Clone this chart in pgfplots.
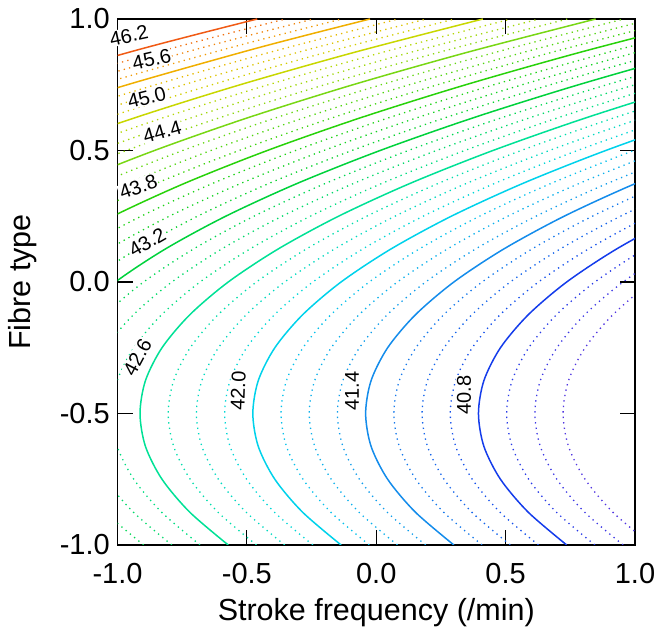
\documentclass[border=0pt]{standalone}
\usepackage{fontspec}
\setmainfont{Liberation Sans}
\usepackage{pgfplots}
\pgfplotsset{compat=1.18}
\definecolor{c402}{RGB}{100,50,220}
\definecolor{c408}{RGB}{20,60,235}
\definecolor{c414}{RGB}{20,140,235}
\definecolor{c420}{RGB}{0,210,235}
\definecolor{c426}{RGB}{0,225,150}
\definecolor{c432}{RGB}{0,210,60}
\definecolor{c438}{RGB}{40,210,10}
\definecolor{c444}{RGB}{120,215,20}
\definecolor{c450}{RGB}{200,215,0}
\definecolor{c456}{RGB}{240,175,0}
\definecolor{c462}{RGB}{240,90,20}
\tikzset{
  sl/.style={line width=1.5pt, smooth},
  dl/.style={line width=1.3pt, dash pattern=on 1.3pt off 4.2pt, smooth},
  cl/.style={font=\fontsize{20}{24}\selectfont, fill=white, inner sep=0.8pt, text=black}
}
\begin{document}
\begin{tikzpicture}[x=1pt,y=1pt]
\useasboundingbox (-117.5,-91) rectangle (540.5,545);
\begin{axis}[at={(0,0)}, anchor=south west, scale only axis,
  width=517.5pt, height=526pt,
  xmin=-1, xmax=1, ymin=-1, ymax=1,
  xtick={-1,-0.5,0,0.5,1}, xticklabels={-1.0,-0.5,0.0,0.5,1.0},
  ytick={-1,-0.5,0,0.5,1}, yticklabels={-1.0,-0.5,0.0,0.5,1.0},
  tick align=inside, major tick length=15pt,
  tick style={line width=1.2pt, black},
  axis line style={line width=1.3pt},
  ticklabel style={font=\fontsize{29}{34}\selectfont, inner sep=0pt},
  xticklabel style={anchor=north, yshift=-18pt},
  yticklabel style={anchor=east, xshift=-7.5pt},
  xlabel={Stroke frequency (/min)}, ylabel={Fibre type},
  every axis x label/.style={at={(axis description cs:0.5,-0.1426)}, anchor=base, inner sep=0pt, font=\fontsize{30.5}{36}\selectfont},
  every axis y label/.style={at={(axis description cs:-0.1672,0.5)}, rotate=90, anchor=base, inner sep=0pt, font=\fontsize{30.5}{36}\selectfont},
  after end axis/.code={
    \node[cl, rotate=12] at (axis cs:-0.956,0.937) {46.2};
    \node[cl, rotate=13] at (axis cs:-0.868,0.847) {45.6};
    \node[cl, rotate=14] at (axis cs:-0.887,0.702) {45.0};
    \node[cl, rotate=16] at (axis cs:-0.827,0.571) {44.4};
    \node[cl, rotate=20] at (axis cs:-0.920,0.362) {43.8};
    \node[cl, rotate=30] at (axis cs:-0.885,0.151) {43.2};
    \node[cl, rotate=62] at (axis cs:-0.923,-0.286) {42.6};
    \node[cl, rotate=88] at (axis cs:-0.534,-0.414) {42.0};
    \node[cl, rotate=90] at (axis cs:-0.094,-0.414) {41.4};
    \node[cl, rotate=90] at (axis cs:0.339,-0.430) {40.8};
  },
]
% 40.35
\addplot[dl, color=c408!25!c402] coordinates {(1.063,-1)(0.914,-0.875)(0.807,-0.75)(0.743,-0.625)(0.722,-0.5)(0.743,-0.375)(0.807,-0.25)(0.914,-0.125)(1.063,0)(1.255,0.125)};
% 40.50
\addplot[dl, color=c408!50!c402] coordinates {(0.954,-1)(0.805,-0.875)(0.698,-0.75)(0.634,-0.625)(0.613,-0.5)(0.634,-0.375)(0.698,-0.25)(0.805,-0.125)(0.954,0)(1.146,0.125)(1.380,0.25)};
% 40.65
\addplot[dl, color=c408!75!c402] coordinates {(0.845,-1)(0.696,-0.875)(0.589,-0.75)(0.525,-0.625)(0.504,-0.5)(0.525,-0.375)(0.589,-0.25)(0.696,-0.125)(0.845,0)(1.037,0.125)(1.271,0.25)};
% 40.80
\addplot[sl, color=c408] coordinates {(0.736,-1)(0.587,-0.875)(0.480,-0.75)(0.416,-0.625)(0.395,-0.5)(0.416,-0.375)(0.480,-0.25)(0.587,-0.125)(0.736,0)(0.928,0.125)(1.162,0.25)(1.439,0.375)};
% 40.95
\addplot[dl, color=c414!25!c408] coordinates {(0.627,-1)(0.478,-0.875)(0.371,-0.75)(0.307,-0.625)(0.286,-0.5)(0.307,-0.375)(0.371,-0.25)(0.478,-0.125)(0.627,0)(0.819,0.125)(1.053,0.25)(1.330,0.375)};
% 41.10
\addplot[dl, color=c414!50!c408] coordinates {(0.518,-1)(0.369,-0.875)(0.262,-0.75)(0.198,-0.625)(0.177,-0.5)(0.198,-0.375)(0.262,-0.25)(0.369,-0.125)(0.518,0)(0.710,0.125)(0.944,0.25)(1.221,0.375)(1.541,0.5)};
% 41.25
\addplot[dl, color=c414!75!c408] coordinates {(0.409,-1)(0.260,-0.875)(0.153,-0.75)(0.089,-0.625)(0.068,-0.5)(0.089,-0.375)(0.153,-0.25)(0.260,-0.125)(0.409,0)(0.601,0.125)(0.835,0.25)(1.112,0.375)(1.432,0.5)};
% 41.40
\addplot[sl, color=c414] coordinates {(0.300,-1)(0.151,-0.875)(0.044,-0.75)(-0.020,-0.625)(-0.041,-0.5)(-0.020,-0.375)(0.044,-0.25)(0.151,-0.125)(0.300,0)(0.492,0.125)(0.726,0.25)(1.003,0.375)(1.323,0.5)};
% 41.55
\addplot[dl, color=c420!25!c414] coordinates {(0.191,-1)(0.042,-0.875)(-0.065,-0.75)(-0.129,-0.625)(-0.150,-0.5)(-0.129,-0.375)(-0.065,-0.25)(0.042,-0.125)(0.191,0)(0.383,0.125)(0.617,0.25)(0.894,0.375)(1.214,0.5)(1.576,0.625)};
% 41.70
\addplot[dl, color=c420!50!c414] coordinates {(0.082,-1)(-0.067,-0.875)(-0.174,-0.75)(-0.238,-0.625)(-0.259,-0.5)(-0.238,-0.375)(-0.174,-0.25)(-0.067,-0.125)(0.082,0)(0.274,0.125)(0.508,0.25)(0.785,0.375)(1.105,0.5)(1.467,0.625)};
% 41.85
\addplot[dl, color=c420!75!c414] coordinates {(-0.027,-1)(-0.176,-0.875)(-0.283,-0.75)(-0.347,-0.625)(-0.368,-0.5)(-0.347,-0.375)(-0.283,-0.25)(-0.176,-0.125)(-0.027,0)(0.165,0.125)(0.399,0.25)(0.676,0.375)(0.996,0.5)(1.358,0.625)(1.763,0.75)};
% 42.00
\addplot[sl, color=c420] coordinates {(-0.136,-1)(-0.285,-0.875)(-0.392,-0.75)(-0.456,-0.625)(-0.477,-0.5)(-0.456,-0.375)(-0.392,-0.25)(-0.285,-0.125)(-0.136,0)(0.056,0.125)(0.290,0.25)(0.567,0.375)(0.887,0.5)(1.249,0.625)(1.654,0.75)};
% 42.15
\addplot[dl, color=c426!25!c420] coordinates {(-0.245,-1)(-0.394,-0.875)(-0.501,-0.75)(-0.565,-0.625)(-0.586,-0.5)(-0.565,-0.375)(-0.501,-0.25)(-0.394,-0.125)(-0.245,0)(-0.053,0.125)(0.181,0.25)(0.458,0.375)(0.778,0.5)(1.140,0.625)(1.545,0.75)};
% 42.30
\addplot[dl, color=c426!50!c420] coordinates {(-0.354,-1)(-0.503,-0.875)(-0.610,-0.75)(-0.674,-0.625)(-0.695,-0.5)(-0.674,-0.375)(-0.610,-0.25)(-0.503,-0.125)(-0.354,0)(-0.162,0.125)(0.072,0.25)(0.349,0.375)(0.669,0.5)(1.031,0.625)(1.436,0.75)};
% 42.45
\addplot[dl, color=c426!75!c420] coordinates {(-0.463,-1)(-0.612,-0.875)(-0.719,-0.75)(-0.783,-0.625)(-0.804,-0.5)(-0.783,-0.375)(-0.719,-0.25)(-0.612,-0.125)(-0.463,0)(-0.271,0.125)(-0.037,0.25)(0.240,0.375)(0.560,0.5)(0.922,0.625)(1.327,0.75)(1.775,0.875)};
% 42.60
\addplot[sl, color=c426] coordinates {(-0.572,-1)(-0.721,-0.875)(-0.828,-0.75)(-0.892,-0.625)(-0.913,-0.5)(-0.892,-0.375)(-0.828,-0.25)(-0.721,-0.125)(-0.572,0)(-0.380,0.125)(-0.146,0.25)(0.131,0.375)(0.451,0.5)(0.813,0.625)(1.218,0.75)(1.666,0.875)};
% 42.75
\addplot[dl, color=c432!25!c426] coordinates {(-0.681,-1)(-0.830,-0.875)(-0.937,-0.75)(-1.001,-0.625)(-1.022,-0.5)(-1.001,-0.375)(-0.937,-0.25)(-0.830,-0.125)(-0.681,0)(-0.489,0.125)(-0.255,0.25)(0.022,0.375)(0.342,0.5)(0.704,0.625)(1.109,0.75)(1.557,0.875)(2.047,1)};
% 42.90
\addplot[dl, color=c432!50!c426] coordinates {(-0.790,-1)(-0.939,-0.875)(-1.046,-0.75)(-1.110,-0.625)(-1.131,-0.5)(-1.110,-0.375)(-1.046,-0.25)(-0.939,-0.125)(-0.790,0)(-0.598,0.125)(-0.364,0.25)(-0.087,0.375)(0.233,0.5)(0.595,0.625)(1.000,0.75)(1.448,0.875)(1.938,1)};
% 43.05
\addplot[dl, color=c432!75!c426] coordinates {(-0.899,-1)(-1.048,-0.875)(-1.155,-0.75)(-1.219,-0.625)(-1.240,-0.5)(-1.219,-0.375)(-1.155,-0.25)(-1.048,-0.125)(-0.899,0)(-0.707,0.125)(-0.473,0.25)(-0.196,0.375)(0.124,0.5)(0.486,0.625)(0.891,0.75)(1.339,0.875)(1.829,1)};
% 43.20
\addplot[sl, color=c432] coordinates {(-1.349,-0.5)(-1.328,-0.375)(-1.264,-0.25)(-1.157,-0.125)(-1.008,0)(-0.816,0.125)(-0.582,0.25)(-0.305,0.375)(0.015,0.5)(0.377,0.625)(0.782,0.75)(1.230,0.875)(1.720,1)};
% 43.35
\addplot[dl, color=c438!25!c432] coordinates {(-1.373,-0.25)(-1.266,-0.125)(-1.117,0)(-0.925,0.125)(-0.691,0.25)(-0.414,0.375)(-0.094,0.5)(0.268,0.625)(0.673,0.75)(1.121,0.875)(1.611,1)};
% 43.50
\addplot[dl, color=c438!50!c432] coordinates {(-1.482,-0.25)(-1.375,-0.125)(-1.226,0)(-1.034,0.125)(-0.800,0.25)(-0.523,0.375)(-0.203,0.5)(0.159,0.625)(0.564,0.75)(1.012,0.875)(1.502,1)};
% 43.65
\addplot[dl, color=c438!75!c432] coordinates {(-1.484,-0.125)(-1.335,0)(-1.143,0.125)(-0.909,0.25)(-0.632,0.375)(-0.312,0.5)(0.050,0.625)(0.455,0.75)(0.903,0.875)(1.393,1)};
% 43.80
\addplot[sl, color=c438] coordinates {(-1.444,0)(-1.252,0.125)(-1.018,0.25)(-0.741,0.375)(-0.421,0.5)(-0.059,0.625)(0.346,0.75)(0.794,0.875)(1.284,1)};
% 43.95
\addplot[dl, color=c444!25!c438] coordinates {(-1.553,0)(-1.361,0.125)(-1.127,0.25)(-0.850,0.375)(-0.530,0.5)(-0.168,0.625)(0.237,0.75)(0.685,0.875)(1.175,1)};
% 44.10
\addplot[dl, color=c444!50!c438] coordinates {(-1.470,0.125)(-1.236,0.25)(-0.959,0.375)(-0.639,0.5)(-0.277,0.625)(0.128,0.75)(0.576,0.875)(1.066,1)};
% 44.25
\addplot[dl, color=c444!75!c438] coordinates {(-1.579,0.125)(-1.345,0.25)(-1.068,0.375)(-0.748,0.5)(-0.386,0.625)(0.019,0.75)(0.467,0.875)(0.957,1)};
% 44.40
\addplot[sl, color=c444] coordinates {(-1.454,0.25)(-1.177,0.375)(-0.857,0.5)(-0.495,0.625)(-0.090,0.75)(0.358,0.875)(0.848,1)};
% 44.55
\addplot[dl, color=c450!25!c444] coordinates {(-1.563,0.25)(-1.286,0.375)(-0.966,0.5)(-0.604,0.625)(-0.199,0.75)(0.249,0.875)(0.739,1)};
% 44.70
\addplot[dl, color=c450!50!c444] coordinates {(-1.395,0.375)(-1.075,0.5)(-0.713,0.625)(-0.308,0.75)(0.140,0.875)(0.630,1)};
% 44.85
\addplot[dl, color=c450!75!c444] coordinates {(-1.504,0.375)(-1.184,0.5)(-0.822,0.625)(-0.417,0.75)(0.031,0.875)(0.521,1)};
% 45.00
\addplot[sl, color=c450] coordinates {(-1.613,0.375)(-1.293,0.5)(-0.931,0.625)(-0.526,0.75)(-0.078,0.875)(0.412,1)};
% 45.15
\addplot[dl, color=c456!25!c450] coordinates {(-1.402,0.5)(-1.040,0.625)(-0.635,0.75)(-0.187,0.875)(0.303,1)};
% 45.30
\addplot[dl, color=c456!50!c450] coordinates {(-1.511,0.5)(-1.149,0.625)(-0.744,0.75)(-0.296,0.875)(0.194,1)};
% 45.45
\addplot[dl, color=c456!75!c450] coordinates {(-1.620,0.5)(-1.258,0.625)(-0.853,0.75)(-0.405,0.875)(0.085,1)};
% 45.60
\addplot[sl, color=c456] coordinates {(-1.729,0.5)(-1.367,0.625)(-0.962,0.75)(-0.514,0.875)(-0.274,0.9375)(-0.024,1)};
% 45.75
\addplot[dl, color=c462!25!c456] coordinates {(-1.838,0.5)(-1.476,0.625)(-1.071,0.75)(-0.623,0.875)(-0.383,0.9375)(-0.133,1)};
% 45.90
\addplot[dl, color=c462!50!c456] coordinates {(-1.947,0.5)(-1.585,0.625)(-1.180,0.75)(-0.732,0.875)(-0.492,0.9375)(-0.242,1)};
% 46.05
\addplot[dl, color=c462!75!c456] coordinates {(-2.056,0.5)(-1.694,0.625)(-1.289,0.75)(-0.841,0.875)(-0.601,0.9375)(-0.351,1)};
% 46.20
\addplot[sl, color=c462] coordinates {(-2.165,0.5)(-1.803,0.625)(-1.398,0.75)(-0.950,0.875)(-0.710,0.9375)(-0.460,1)};
\end{axis}
\end{tikzpicture}
\end{document}
